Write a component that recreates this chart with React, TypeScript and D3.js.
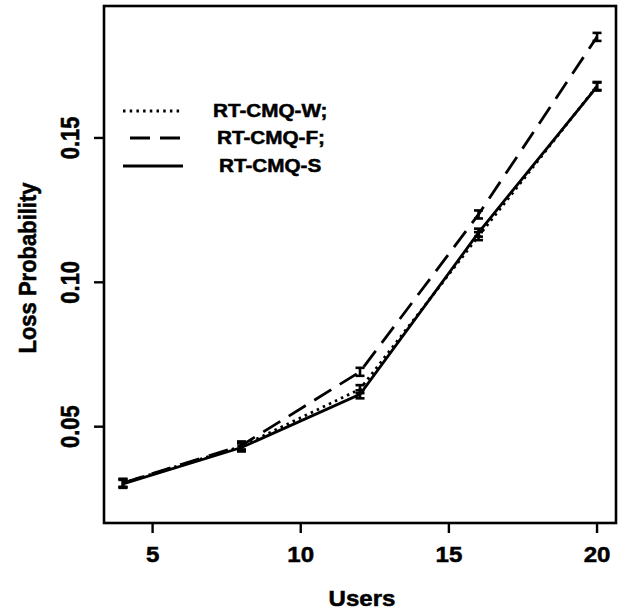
import React from "react";
import * as d3 from "d3";

const users = [4, 8, 12, 16, 20];
const seriesNames = ["RT-CMQ-W;", "RT-CMQ-F;", "RT-CMQ-S"];
const lossW = [0.0305, 0.0432, 0.063, 0.116, 0.168];
const lossF = [0.0305, 0.0435, 0.069, 0.1235, 0.185];
const lossS = [0.0302, 0.0428, 0.0612, 0.1172, 0.1678];
const xTicks = [5, 10, 15, 20];
const yTicks = [0.05, 0.1, 0.15];
const yTickLabels = ["0.05", "0.10", "0.15"];

const W = 628, H = 616;
const L = 104, R = 616, T = 6, B = 523;
const FONT = "'Liberation Sans', Arial, Helvetica, sans-serif";

export default function App() {
  const x = d3.scaleLinear().domain([3.36, 20.64]).range([L, R]);
  const y = d3.scaleLinear().domain([0.01664, 0.1957]).range([B, T]);
  const line = d3.line<number>().x((_, i) => x(users[i])).y((v) => y(v));
  const series = [
    { name: seriesNames[0], values: lossW, dash: "2.5 4.2" },
    { name: seriesNames[1], values: lossF, dash: "20 10" },
    { name: seriesNames[2], values: lossS, dash: "" },
  ];
  const legendX = [213, 217, 219];
  const legendY = [111, 138, 166];
  const legendLineStart = [123, 130, 123];
  const textStroke = { stroke: "#000", strokeWidth: 0.5 };
  return (
    <svg width={W} height={H} style={{ position: "absolute", left: 0, top: 0, background: "#fff" }}>
      <rect x={0} y={0} width={W} height={H} fill="#fff" />
      {series.map((s, k) => (
        <g key={k}>
          <path d={line(s.values) || ""} fill="none" stroke="#000" strokeWidth={2.8}
            strokeDasharray={s.dash || undefined} />
          {s.values.map((v, i) => {
            const cx = x(users[i]);
            const cy = y(v);
            return (
              <g key={i} stroke="#000" strokeWidth={2.6}>
                <line x1={cx} x2={cx} y1={cy - 4} y2={cy + 4} />
                <line x1={cx - 4.5} x2={cx + 4.5} y1={cy - 4} y2={cy - 4} />
                <line x1={cx - 4.5} x2={cx + 4.5} y1={cy + 4} y2={cy + 4} />
              </g>
            );
          })}
        </g>
      ))}
      <rect x={L} y={T} width={R - L} height={B - T} fill="none" stroke="#000" strokeWidth={2.6} />
      {xTicks.map((t) => (
        <g key={t}>
          <line x1={x(t)} x2={x(t)} y1={B} y2={B + 10} stroke="#000" strokeWidth={2.4} />
          <text x={x(t)} y={562} textAnchor="middle" fontFamily={FONT} fontWeight="bold" {...textStroke}
            fontSize={21.5} transform={`translate(${x(t)},0) scale(1.12,1) translate(${-x(t)},0)`}>{t}</text>
        </g>
      ))}
      {yTicks.map((t, i) => (
        <g key={t}>
          <line x1={L - 10} x2={L} y1={y(t)} y2={y(t)} stroke="#000" strokeWidth={2.4} />
          <text transform={`translate(79,${y(t)}) scale(1.15,1) rotate(-90)`} textAnchor="middle" {...textStroke}
            fontFamily={FONT} fontWeight="bold" fontSize={22}>{yTickLabels[i]}</text>
        </g>
      ))}
      <text x={362} y={606} textAnchor="middle" fontFamily={FONT} fontWeight="bold" fontSize={21.5} {...textStroke}
        transform={`translate(362,0) scale(1.12,1) translate(-362,0)`}>Users</text>
      <text transform={`translate(36,268) scale(1.12,1) rotate(-90)`} textAnchor="middle" {...textStroke}
        fontFamily={FONT} fontWeight="bold" fontSize={22}>Loss Probability</text>
      {series.map((s, k) => (
        <g key={k}>
          <line x1={legendLineStart[k]} x2={183} y1={legendY[k]} y2={legendY[k]} stroke="#000"
            strokeWidth={2.8} strokeDasharray={s.dash || undefined} />
          <text x={legendX[k]} y={legendY[k] + 6.5} fontFamily={FONT} fontWeight="bold" fontSize={18} {...textStroke}
            transform={`translate(${legendX[k]},0) scale(1.15,1) translate(${-legendX[k]},0)`}>{s.name}</text>
        </g>
      ))}
    </svg>
  );
}
